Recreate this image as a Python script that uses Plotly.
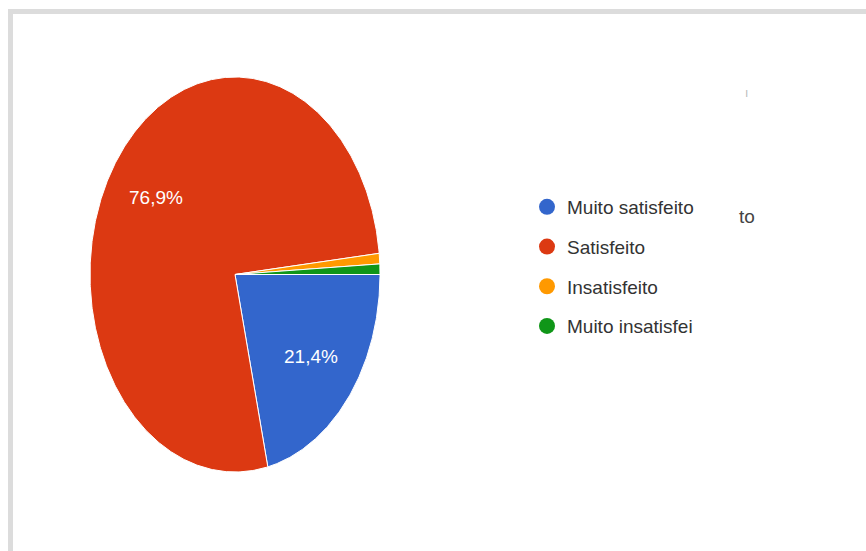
import numpy as np
import plotly.graph_objects as go

# Survey answers (counts of responses)
categories = ["Muito satisfeito", "Satisfeito", "Insatisfeito", "Muito insatisfeito"]
legend_labels = ["Muito satisfeito", "Satisfeito", "Insatisfeito", "Muito insatisfei"]
counts = [25, 90, 1, 1]
colors = ["#3366cc", "#dc3912", "#ff9900", "#109618"]

FONT = "Liberation Sans, Arial, sans-serif"
W, H = 866, 551

total = sum(counts)
shares = [c / total for c in counts]

fig = go.Figure()

# Pie slices drawn as filled wedges, starting at 3 o'clock and running clockwise.
start = 0.0
for name, share, color in zip(categories, shares, colors):
    a0, a1 = start * 2 * np.pi, (start + share) * 2 * np.pi
    t = np.linspace(a0, a1, max(int(share * 720), 2) + 1)
    xs = np.concatenate([[0.0], np.cos(t), [0.0]])
    ys = np.concatenate([[0.0], -np.sin(t), [0.0]])
    fig.add_trace(go.Scatter(
        x=xs, y=ys, mode="lines", fill="toself", fillcolor=color,
        line=dict(color="white", width=1), name=name,
        showlegend=False, hoverinfo="skip",
    ))
    if share > 0.05:
        mid = (start + share / 2) * 2 * np.pi
        pct = f"{share * 100:.1f}".replace(".", ",") + "%"
        fig.add_annotation(
            x=0.67 * np.cos(mid), y=-0.67 * np.sin(mid), xref="x", yref="y",
            text=pct, showarrow=False,
            font=dict(family=FONT, size=19, color="white"),
        )
    start += share

# Legend entries with round markers
for i, (lab, color) in enumerate(zip(legend_labels, colors)):
    fig.add_trace(go.Scatter(
        x=[None], y=[None], mode="markers", name=lab, legendgroup=f"g{i}",
        marker=dict(symbol="circle", size=16, color=color),
    ))

# Stray text fragments from the surrounding panel
fig.add_annotation(x=757 / W, y=1 - 217 / H, xref="paper", yref="paper",
                   text="to", showarrow=False,
                   font=dict(family=FONT, size=19, color="#444444"))
fig.add_annotation(x=750 / W, y=1 - 84 / H, xref="paper", yref="paper",
                   text="ı", showarrow=False,
                   font=dict(family=FONT, size=12, color="#bbbbbb"))

# Panel frame (top and left edges)
frame = dict(color="#dcdcdc", width=5)
fig.add_shape(type="line", xref="paper", yref="paper",
              x0=8 / W, x1=1, y0=1 - 11.5 / H, y1=1 - 11.5 / H, line=frame)
fig.add_shape(type="line", xref="paper", yref="paper",
              x0=10.5 / W, x1=10.5 / W, y0=1 - 9 / H, y1=0, line=frame)

fig.update_layout(
    width=W, height=H,
    margin=dict(l=0, r=0, t=0, b=0),
    paper_bgcolor="white", plot_bgcolor="white",
    xaxis=dict(domain=[90 / W, 380 / W], range=[-1, 1], visible=False, fixedrange=True),
    yaxis=dict(domain=[1 - 472 / H, 1 - 77 / H], range=[-1, 1], visible=False, fixedrange=True),
    legend=dict(
        x=527 / W, y=1 - 188 / H, xanchor="left", yanchor="top",
        font=dict(family=FONT, size=19, color="#333333"),
        tracegroupgap=12, bgcolor="rgba(0,0,0,0)",
    ),
    showlegend=True,
)

fig.write_html("out.html")
